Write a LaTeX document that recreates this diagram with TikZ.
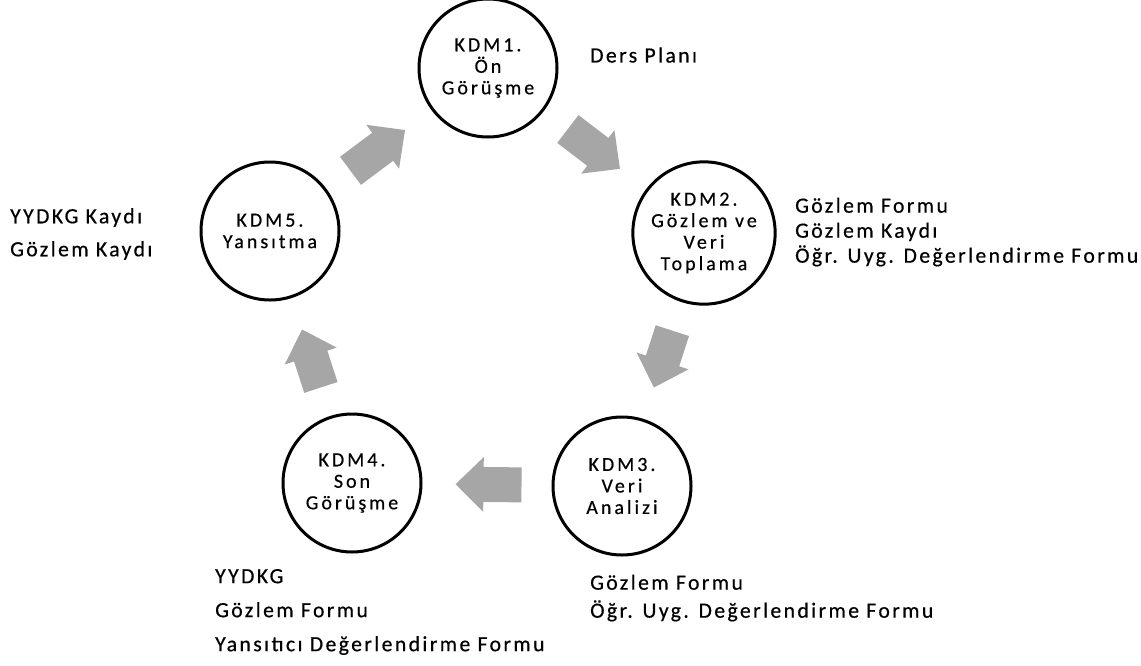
\documentclass[tikz,border=0pt]{standalone}
\usepackage{fontspec}
\setmainfont{Carlito}
\newfontfamily\kdmfont{Carlito}[LetterSpace=15,FakeBold=0.5]
\newfontfamily\notefont{Carlito}[LetterSpace=11,FakeBold=0.5]
\usetikzlibrary{arrows.meta}

\begin{document}
\begin{tikzpicture}[x=1pt,y=-1pt,
		kdm/.style={draw,circle,minimum size=138pt,line width=3pt,align=center,font=\kdmfont\fontsize{20}{21.5}\selectfont},
		flow/.style={draw=gray!70,line width=35pt,-{Triangle[width=53pt,length=28pt]},shorten <=30pt,shorten >=33pt},
		notes/.style={anchor=west,align=left,inner sep=0pt,font=\notefont\fontsize{21.7}{25}\selectfont}]
			\useasboundingbox (0,0) rectangle (1141,665);
			% the five stages
			\node[kdm] (k1) at (488,68){KDM1.\\Ön\\Görüşme};
			\node[kdm] (k2) at (704,233){KDM2.\\Gözlem ve\\Veri\\Toplama};
			\node[kdm] (k3) at (622,486){KDM3.\\Veri\\Analizi};
			\node[kdm] (k4) at (352,483){KDM4.\\Son\\Görüşme};
			\node[kdm] (k5) at (270,231){KDM5.\\Yansıtma};
			% documents used in each stage
			\node[notes] (n1) at (590,55){Ders Planı};
			\node[notes] (n2) at (795,232){Gözlem Formu\\Gözlem Kaydı\\Öğr. Uyg. Değerlendirme Formu};
			\node[notes] (n3) at (590,598){Gözlem Formu\\[3pt]Öğr. Uyg. Değerlendirme Formu};
			\node[notes] (n4) at (215,612){YYDKG\\[9pt]Gözlem Formu\\[9pt]Yansıtıcı Değerlendirme Formu};
			\node[notes] (n5) at (10,234){YYDKG Kaydı\\[8pt]Gözlem Kaydı};
			% cycle
			\draw (k1) edge[flow] (k2);
			\draw (k2) edge[flow] (k3);
			\draw (k3) edge[flow] (k4);
			\draw (k4) edge[flow] (k5);
			\draw (k5) edge[flow] (k1);
		\end{tikzpicture}
\end{document}
